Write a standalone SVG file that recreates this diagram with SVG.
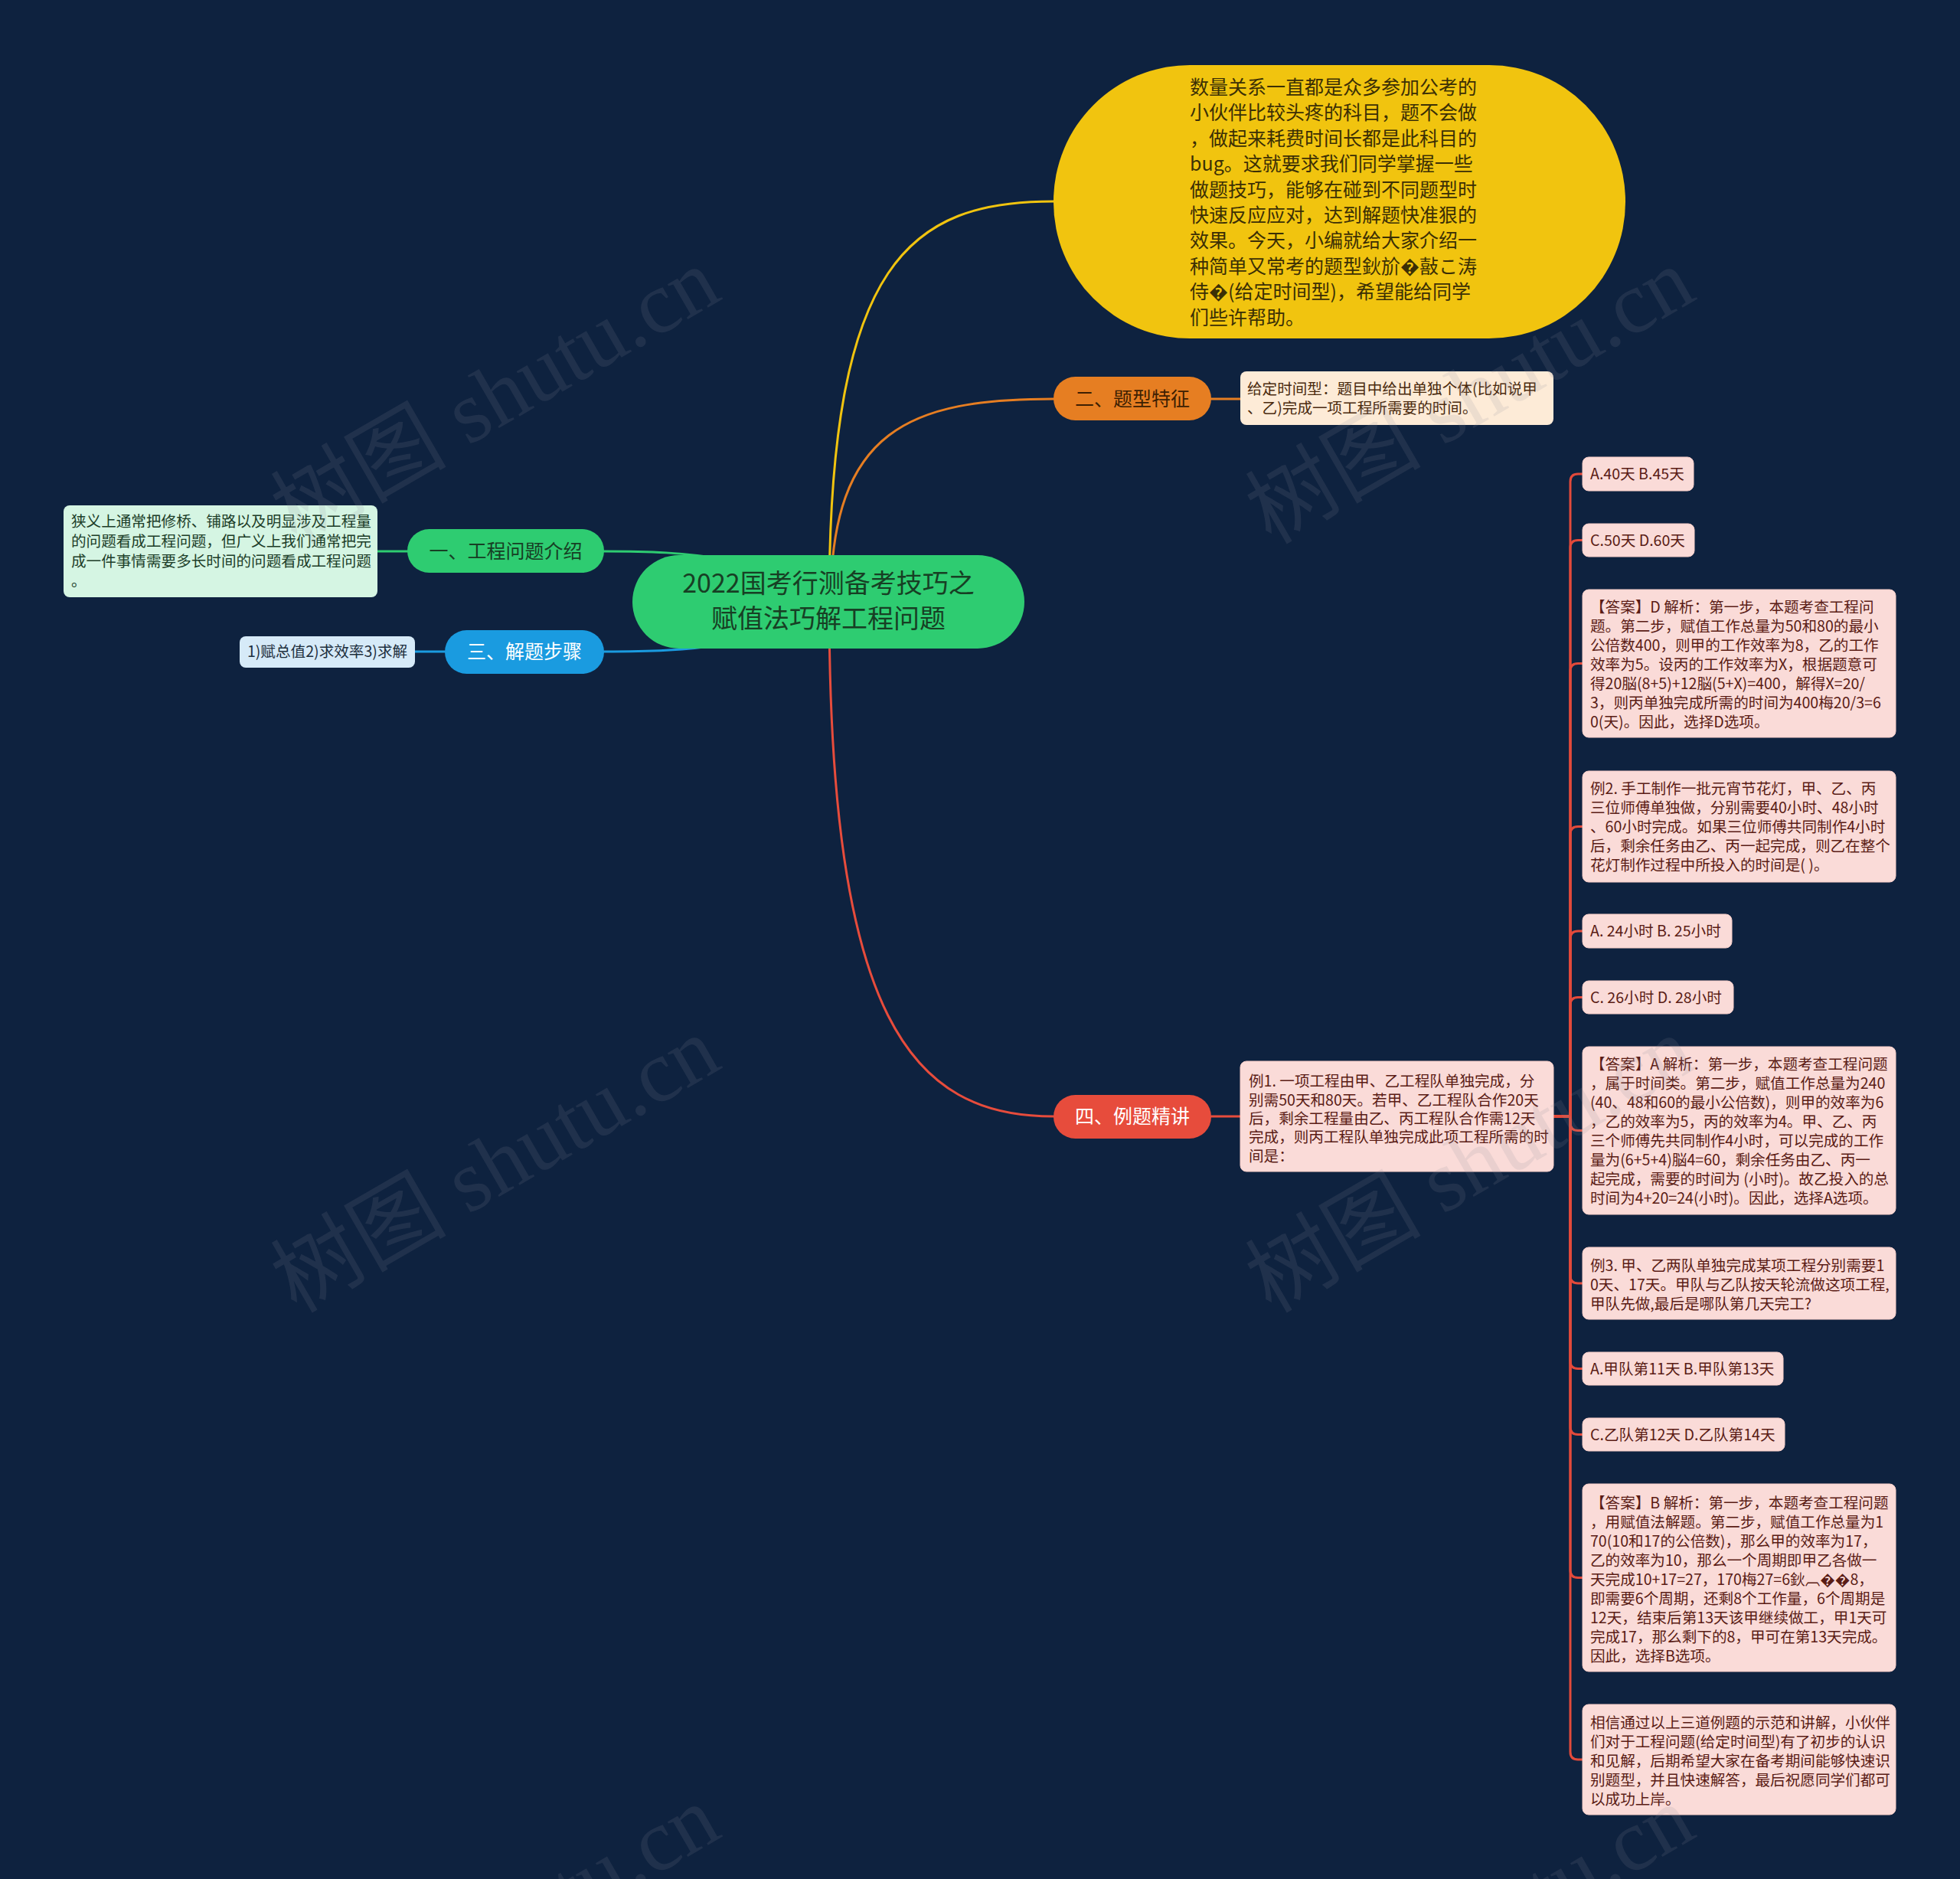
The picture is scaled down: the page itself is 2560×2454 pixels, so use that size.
<svg xmlns="http://www.w3.org/2000/svg" width="2560" height="2454" viewBox="0 0 2560 2454">
<style>
text{font-family:"Noto Sans CJK SC","Noto Sans",sans-serif}
.wm{font-family:"Liberation Serif","Noto Sans CJK SC",serif;font-size:115px;fill:#8a8f99;fill-opacity:0.15}
.br{font-size:25px;text-anchor:middle}
.sm{font-size:19.6px}
.rbox{fill:#fadbd8;stroke:#f6cdc8;stroke-width:1}
.rtxt{fill:#5a1c15}
.conn{fill:none;stroke-width:3;stroke-linecap:round}
.rc{fill:none;stroke:#e34a3b;stroke-width:3}
</style>
<rect x="0" y="0" width="2560" height="2454" fill="#0e223f"/>

<g id="connectors">
<path class="conn" stroke="#f1c40f" d="M1083,786 C1083,340 1190,263 1376,263"/>
<path class="conn" stroke="#e67e22" d="M1085,786 C1085,560 1190,521 1376,521"/>
<path class="conn" stroke="#e74c3c" d="M1083,786 C1083,1330 1190,1458 1376,1458"/>
<path class="conn" stroke="#2ecc71" d="M789,720 C900,720 1000,726 1083,786"/>
<path class="conn" stroke="#1a9be0" d="M789,851 C900,851 1000,846 1083,786"/>
<path class="conn" stroke="#e67e22" d="M1582,521 H1620"/>
<path class="conn" stroke="#2ecc71" d="M532,720 H493"/>
<path class="conn" stroke="#1a9be0" d="M581,851 H542"/>
<path class="conn" stroke="#e74c3c" d="M1582,1458 H1620"/>
<path class="rc" d="M2029,1458 H2051 V629 Q2051,619 2061,619 H2067"/>
<path class="rc" d="M2029,1458 H2051 V715.5 Q2051,705.5 2061,705.5 H2067"/>
<path class="rc" d="M2029,1458 H2051 V876.5 Q2051,866.5 2061,866.5 H2067"/>
<path class="rc" d="M2029,1458 H2051 V1089.5 Q2051,1079.5 2061,1079.5 H2067"/>
<path class="rc" d="M2029,1458 H2051 V1226 Q2051,1216 2061,1216 H2067"/>
<path class="rc" d="M2029,1458 H2051 V1312.5 Q2051,1302.5 2061,1302.5 H2067"/>
<path class="rc" d="M2029,1458 H2051 V1466.5 Q2051,1476.5 2061,1476.5 H2067"/>
<path class="rc" d="M2029,1458 H2051 V1666 Q2051,1676 2061,1676 H2067"/>
<path class="rc" d="M2029,1458 H2051 V1777.5 Q2051,1787.5 2061,1787.5 H2067"/>
<path class="rc" d="M2029,1458 H2051 V1863.5 Q2051,1873.5 2061,1873.5 H2067"/>
<path class="rc" d="M2029,1458 H2051 V2050.5 Q2051,2060.5 2061,2060.5 H2067"/>
<path class="rc" d="M2029,1458 H2051 V2288 Q2051,2298 2061,2298 H2067"/>
</g>

<g id="root">
<rect x="826" y="725" width="512" height="122" rx="61" fill="#2ecc71"/>
<text x="1082" y="774" font-size="34" text-anchor="middle" fill="#173f24">2022国考行测备考技巧之</text>
<text x="1082" y="820" font-size="34" text-anchor="middle" fill="#173f24">赋值法巧解工程问题</text>
</g>

<g id="intro-yellow">
<rect x="1376" y="85" width="747" height="357" rx="178" fill="#f1c40f"/>
<g font-size="25" fill="#3b2f05">
<text x="1554" y="123">数量关系一直都是众多参加公考的</text>
<text x="1554" y="156.4">小伙伴比较头疼的科目，题不会做</text>
<text x="1554" y="189.8">，做起来耗费时间长都是此科目的</text>
<text x="1554" y="223.2">bug。这就要求我们同学掌握一些</text>
<text x="1554" y="256.6">做题技巧，能够在碰到不同题型时</text>
<text x="1554" y="290">快速反应应对，达到解题快准狠的</text>
<text x="1554" y="323.4">效果。今天，小编就给大家介绍一</text>
<text x="1554" y="356.8">种简单又常考的题型鈥斺�敼こ涛</text>
<text x="1554" y="390.2">侍�(给定时间型)，希望能给同学</text>
<text x="1554" y="423.6">们些许帮助。</text>
</g>
</g>

<g id="branch-2">
<rect x="1376" y="492" width="206" height="57" rx="28.5" fill="#e67e22"/>
<text class="br" x="1479" y="530" fill="#3d1f02">二、题型特征</text>
</g>
<g id="branch-2-child">
<rect x="1620" y="485" width="409" height="70" rx="8" fill="#fdebd7"/>
<text class="sm" x="1629" y="515" fill="#4a2a0e">给定时间型：题目中给出单独个体(比如说甲</text>
<text class="sm" x="1629" y="540" fill="#4a2a0e">、乙)完成一项工程所需要的时间。</text>
</g>

<g id="branch-1">
<rect x="532" y="691" width="257" height="57" rx="28.5" fill="#2ecc71"/>
<text class="br" x="660.5" y="729" fill="#173f24">一、工程问题介绍</text>
</g>
<g id="branch-1-child">
<rect x="83" y="660" width="410" height="120" rx="8" fill="#d5f5e3"/>
<g class="sm" fill="#1c3d28">
<text x="93" y="688">狭义上通常把修桥、铺路以及明显涉及工程量</text>
<text x="93" y="714">的问题看成工程问题，但广义上我们通常把完</text>
<text x="93" y="740">成一件事情需要多长时间的问题看成工程问题</text>
<text x="93" y="766">。</text>
</g>
</g>

<g id="branch-3">
<rect x="581" y="823" width="208" height="57" rx="28.5" fill="#1a9be0"/>
<text class="br" x="685" y="860" fill="#ffffff">三、解题步骤</text>
</g>
<g id="branch-3-child">
<rect x="313" y="831" width="229" height="41" rx="8" fill="#d6eaf8"/>
<text class="sm" x="427.5" y="858" text-anchor="middle" fill="#1c2e3d">1)赋总值2)求效率3)求解</text>
</g>

<g id="branch-4">
<rect x="1376" y="1430" width="206" height="57" rx="28.5" fill="#e74c3c"/>
<text class="br" x="1479" y="1467" fill="#ffffff">四、例题精讲</text>
</g>
<g id="example-1">
<rect class="rbox" x="1620" y="1386" width="409" height="144" rx="8"/>
<g class="sm rtxt">
<text x="1631" y="1419">例1. 一项工程由甲、乙工程队单独完成，分</text>
<text x="1631" y="1444">别需50天和80天。若甲、乙工程队合作20天</text>
<text x="1631" y="1468">后，剩余工程量由乙、丙工程队合作需12天</text>
<text x="1631" y="1492">完成，则丙工程队单独完成此项工程所需的时</text>
<text x="1631" y="1517">间是：</text>
</g>
</g>

<g id="opt-1a">
<rect class="rbox" x="2067" y="597" width="145" height="44" rx="8"/>
<text class="sm rtxt" x="2077" y="626">A.40天 B.45天</text>
</g>
<g id="opt-1c">
<rect class="rbox" x="2067" y="684" width="146" height="43" rx="8"/>
<text class="sm rtxt" x="2077" y="712.5">C.50天 D.60天</text>
</g>
<g id="answer-1">
<rect class="rbox" x="2067" y="770" width="409" height="193" rx="8"/>
<g class="sm rtxt">
<text x="2077" y="800">【答案】D 解析：第一步，本题考查工程问</text>
<text x="2077" y="825">题。第二步，赋值工作总量为50和80的最小</text>
<text x="2077" y="850">公倍数400，则甲的工作效率为8，乙的工作</text>
<text x="2077" y="875">效率为5。设丙的工作效率为X，根据题意可</text>
<text x="2077" y="900">得20脳(8+5)+12脳(5+X)=400，解得X=20/</text>
<text x="2077" y="925">3，则丙单独完成所需的时间为400梅20/3=6</text>
<text x="2077" y="950">0(天)。因此，选择D选项。</text>
</g>
</g>
<g id="example-2">
<rect class="rbox" x="2067" y="1007" width="409" height="145" rx="8"/>
<g class="sm rtxt">
<text x="2077" y="1037">例2. 手工制作一批元宵节花灯，甲、乙、丙</text>
<text x="2077" y="1062">三位师傅单独做，分别需要40小时、48小时</text>
<text x="2077" y="1087">、60小时完成。如果三位师傅共同制作4小时</text>
<text x="2077" y="1112">后，剩余任务由乙、丙一起完成，则乙在整个</text>
<text x="2077" y="1137">花灯制作过程中所投入的时间是( )。</text>
</g>
</g>
<g id="opt-2a">
<rect class="rbox" x="2067" y="1194" width="195" height="44" rx="8"/>
<text class="sm rtxt" x="2077" y="1223">A. 24小时 B. 25小时</text>
</g>
<g id="opt-2c">
<rect class="rbox" x="2067" y="1281" width="197" height="43" rx="8"/>
<text class="sm rtxt" x="2077" y="1309.5">C. 26小时 D. 28小时</text>
</g>
<g id="answer-2">
<rect class="rbox" x="2067" y="1367" width="409" height="219" rx="8"/>
<g class="sm rtxt">
<text x="2077" y="1397">【答案】A 解析：第一步，本题考查工程问题</text>
<text x="2077" y="1422">，属于时间类。第二步，赋值工作总量为240</text>
<text x="2077" y="1447">(40、48和60的最小公倍数)，则甲的效率为6</text>
<text x="2077" y="1472">，乙的效率为5，丙的效率为4。甲、乙、丙</text>
<text x="2077" y="1497">三个师傅先共同制作4小时，可以完成的工作</text>
<text x="2077" y="1522">量为(6+5+4)脳4=60，剩余任务由乙、丙一</text>
<text x="2077" y="1547">起完成，需要的时间为 (小时)。故乙投入的总</text>
<text x="2077" y="1572">时间为4+20=24(小时)。因此，选择A选项。</text>
</g>
</g>
<g id="example-3">
<rect class="rbox" x="2067" y="1629" width="409" height="94" rx="8"/>
<g class="sm rtxt">
<text x="2077" y="1660">例3. 甲、乙两队单独完成某项工程分别需要1</text>
<text x="2077" y="1685">0天、17天。甲队与乙队按天轮流做这项工程,</text>
<text x="2077" y="1710">甲队先做,最后是哪队第几天完工?</text>
</g>
</g>
<g id="opt-3a">
<rect class="rbox" x="2067" y="1766" width="262" height="43" rx="8"/>
<text class="sm rtxt" x="2077" y="1794.5">A.甲队第11天 B.甲队第13天</text>
</g>
<g id="opt-3c">
<rect class="rbox" x="2067" y="1852" width="264" height="43" rx="8"/>
<text class="sm rtxt" x="2077" y="1880.5">C.乙队第12天 D.乙队第14天</text>
</g>
<g id="answer-3">
<rect class="rbox" x="2067" y="1938" width="409" height="245" rx="8"/>
<g class="sm rtxt">
<text x="2077" y="1970">【答案】B 解析：第一步，本题考查工程问题</text>
<text x="2077" y="1995">，用赋值法解题。第二步，赋值工作总量为1</text>
<text x="2077" y="2020">70(10和17的公倍数)，那么甲的效率为17，</text>
<text x="2077" y="2045">乙的效率为10，那么一个周期即甲乙各做一</text>
<text x="2077" y="2070">天完成10+17=27，170梅27=6鈥︹��8，</text>
<text x="2077" y="2095">即需要6个周期，还剩8个工作量，6个周期是</text>
<text x="2077" y="2120">12天，结束后第13天该甲继续做工，甲1天可</text>
<text x="2077" y="2145">完成17，那么剩下的8，甲可在第13天完成。</text>
<text x="2077" y="2170">因此，选择B选项。</text>
</g>
</g>
<g id="summary">
<rect class="rbox" x="2067" y="2226" width="409" height="144" rx="8"/>
<g class="sm rtxt">
<text x="2077" y="2257">相信通过以上三道例题的示范和讲解，小伙伴</text>
<text x="2077" y="2282">们对于工程问题(给定时间型)有了初步的认识</text>
<text x="2077" y="2307">和见解，后期希望大家在备考期间能够快速识</text>
<text x="2077" y="2332">别题型，并且快速解答，最后祝愿同学们都可</text>
<text x="2077" y="2357">以成功上岸。</text>
</g>
</g>

<g id="watermarks">
<text class="wm" transform="translate(387,712) rotate(-30)">树图 shutu.cn</text>
<text class="wm" transform="translate(1660,712) rotate(-30)">树图 shutu.cn</text>
<text class="wm" transform="translate(387,1716) rotate(-30)">树图 shutu.cn</text>
<text class="wm" transform="translate(1660,1716) rotate(-30)">树图 shutu.cn</text>
<text class="wm" transform="translate(387,2720) rotate(-30)">树图 shutu.cn</text>
<text class="wm" transform="translate(1660,2720) rotate(-30)">树图 shutu.cn</text>
</g>
</svg>
